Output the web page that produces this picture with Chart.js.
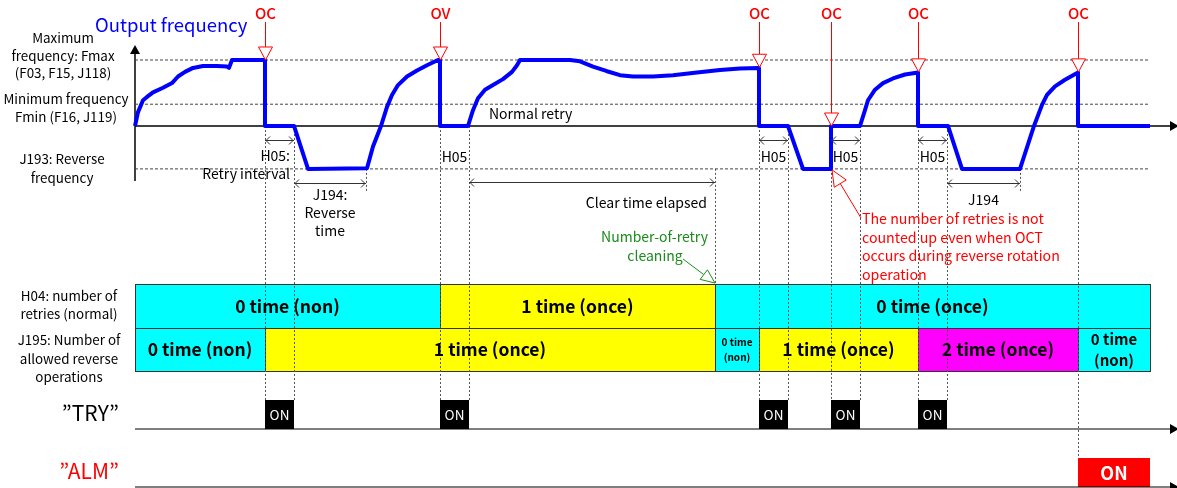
<!DOCTYPE html>
<html>
<head>
<meta charset="utf-8">
<script src="https://cdn.jsdelivr.net/npm/chart.js@4.4.1/dist/chart.umd.min.js"></script>
<style>
  html, body { margin: 0; padding: 0; background: #fff; }
  #wrap { width: 1177px; height: 488px; }
</style>
</head>
<body>
<div id="wrap"><canvas id="timing" width="1177" height="488"></canvas></div>
<script>
// time is in arbitrary units (0 = start), frequency in % of Fmax
const freqTimes = [0, 3, 8, 12, 18, 28, 37, 43, 50, 58, 68, 82, 92, 94, 97,
    130, 130, 159, 173, 232, 238, 246, 252, 257, 263, 272, 282, 292, 303,
    305, 305, 333, 338, 343, 350, 358, 368, 377, 382, 385,
    435, 445, 458, 472, 485, 498, 518, 538, 562, 585, 605, 623,
    624, 624, 653, 668, 696, 696, 725, 730, 733, 740, 748, 758, 770, 783,
    783, 813, 827, 885, 899, 907, 912, 920, 930, 943,
    943, 1015];
const freqValues = [0, 21, 39, 44, 51, 58, 65, 75, 82, 88, 91, 91, 90, 88, 100,
    100, 0, 0, -65, -64, -31, 0, 29, 47, 62, 75, 84, 92, 100,
    100, 0, 0, 24, 42, 55, 62, 71, 82, 92, 100,
    100, 98, 90, 83, 77, 75, 75, 77, 81, 85, 87, 88,
    88, 0, 0, -65, -65, 0, 0, 24, 39, 55, 65, 72, 78, 81,
    0, 0, -65, -65, 0, 32, 47, 60, 70, 81,
    0, 0];

const fMax = 100;
const fMin = 33;
const fReverse = -65;
const endTime = 1015;

// trips
const tripTimes = [130, 305, 624, 696, 783, 943];
const tripCodes = ['OC', 'OV', 'OC', 'OC', 'OC', 'OC'];
const tripFreq = [100, 100, 89, 0, 82, 82];

// retry (H05) intervals = TRY signal on
const tryOnStart = [130, 305, 624, 696, 783];
const tryOnEnd = [159, 334, 653, 725, 812];
// reverse time J194
const reverseStart = [159, 812];
const reverseEnd = [231, 885];
const clearStart = 334;
const clearEnd = 580;

// ALM signal on
const almOnStart = [943];
const almOnEnd = [1015];

// H04 lane
const h04Edges = [0, 305, 580, 1015];
const h04Counts = [0, 1, 0];
const h04Labels = ['0 time (non)', '1 time (once)', '0 time (once)'];

// J195 lane
const j195Edges = [0, 130, 580, 624, 783, 943, 1015];
const j195Counts = [0, 1, 0, 1, 2, 0];
const j195Labels = ['0 time (non)', '1 time (once)', '0 time\n(non)', '1 time (once)', '2 time (once)', '0 time\n(non)'];

const FONT = '"Noto Sans CJK JP", "Noto Sans", sans-serif';
const countColors = ['#00ffff', '#ffff00', '#ff00ff'];

function text(ctx, str, x, y, size, color, align, weight) {
    ctx.font = (weight || 'normal') + ' ' + size + 'px ' + FONT;
    ctx.fillStyle = color || '#000';
    ctx.textAlign = align || 'center';
    ctx.textBaseline = 'middle';
    ctx.fillText(str, x, y);
}

function dashedV(ctx, x, y1, y2) {
    ctx.save();
    ctx.strokeStyle = '#555';
    ctx.lineWidth = 1;
    ctx.setLineDash([2, 2]);
    ctx.beginPath();
    ctx.moveTo(Math.round(x) + 0.5, y1);
    ctx.lineTo(Math.round(x) + 0.5, y2);
    ctx.stroke();
    ctx.restore();
}

function dimArrow(ctx, x1, x2, y) {
    ctx.save();
    ctx.strokeStyle = '#333';
    ctx.lineWidth = 1;
    ctx.beginPath();
    ctx.moveTo(x1, y + 0.5);
    ctx.lineTo(x2, y + 0.5);
    ctx.moveTo(x1 + 5, y - 3.5);
    ctx.lineTo(x1 + 1, y + 0.5);
    ctx.lineTo(x1 + 5, y + 4.5);
    ctx.moveTo(x2 - 5, y - 3.5);
    ctx.lineTo(x2 - 1, y + 0.5);
    ctx.lineTo(x2 - 5, y + 4.5);
    ctx.stroke();
    ctx.restore();
}

// line with a hollow triangle head at (x2, y2)
function hollowArrow(ctx, x1, y1, x2, y2, color, headLen, headHalf) {
    const a = Math.atan2(y2 - y1, x2 - x1);
    const bx = x2 - headLen * Math.cos(a), by = y2 - headLen * Math.sin(a);
    ctx.save();
    ctx.strokeStyle = color;
    ctx.lineWidth = 1;
    ctx.beginPath();
    ctx.moveTo(x1, y1);
    ctx.lineTo(bx, by);
    ctx.stroke();
    ctx.beginPath();
    ctx.moveTo(x2, y2);
    ctx.lineTo(bx + headHalf * Math.sin(a), by - headHalf * Math.cos(a));
    ctx.lineTo(bx - headHalf * Math.sin(a), by + headHalf * Math.cos(a));
    ctx.closePath();
    ctx.fillStyle = '#fff';
    ctx.fill();
    ctx.stroke();
    ctx.restore();
}

function solidArrowHead(ctx, x, y, dir) {
    ctx.beginPath();
    if (dir === 'up') {
        ctx.moveTo(x, y);
        ctx.lineTo(x - 5, y + 9);
        ctx.lineTo(x + 5, y + 9);
    } else {
        ctx.moveTo(x, y);
        ctx.lineTo(x - 9, y - 5);
        ctx.lineTo(x - 9, y + 5);
    }
    ctx.closePath();
    ctx.fillStyle = '#000';
    ctx.fill();
}

function drawLane(ctx, X, edges, counts, top, bottom) {
    for (let i = 0; i < counts.length; i++) {
        const x1 = X(edges[i]), x2 = X(edges[i + 1]);
        ctx.fillStyle = countColors[counts[i]];
        ctx.fillRect(x1, top, x2 - x1, bottom - top);
        ctx.strokeStyle = '#333';
        ctx.lineWidth = 1;
        ctx.strokeRect(Math.round(x1) + 0.5, top + 0.5, Math.round(x2 - x1), bottom - top);
    }
}

function laneLabels(ctx, X, edges, labels, top, bottom) {
    for (let i = 0; i < labels.length; i++) {
        const cx = (X(edges[i]) + X(edges[i + 1])) / 2;
        const cy = (top + bottom) / 2;
        const lines = labels[i].split('\n');
        if (lines.length === 1) {
            text(ctx, lines[0], cx, cy, 17.5, '#000', 'center', 'bold');
        } else {
            const w = X(edges[i + 1]) - X(edges[i]);
            const size = w < 60 ? 10 : 15;
            const gap = w < 60 ? 7.5 : 10.5;
            text(ctx, lines[0], cx, cy - gap, size, '#000', 'center', 'bold');
            text(ctx, lines[1], cx, cy + gap, size, '#000', 'center', 'bold');
        }
    }
}

const lanes = { h04Top: 284, h04Bottom: 328, j195Bottom: 371, tryTop: 400, tryBase: 429, almTop: 458, almBase: 487 };

const timingDecor = {
    id: 'timingDecor',
    beforeDatasetsDraw(chart) {
        const ctx = chart.ctx;
        const X = t => chart.scales.x.getPixelForValue(t);
        const Y = f => chart.scales.y.getPixelForValue(f);

        // count lanes
        drawLane(ctx, X, h04Edges, h04Counts, lanes.h04Top, lanes.h04Bottom);
        drawLane(ctx, X, j195Edges, j195Counts, lanes.h04Bottom, lanes.j195Bottom);

        // signal lanes
        tryOnStart.forEach((t, i) => {
            ctx.fillStyle = '#000';
            ctx.fillRect(X(t), lanes.tryTop, X(tryOnEnd[i]) - X(t), lanes.tryBase - lanes.tryTop);
        });
        almOnStart.forEach((t, i) => {
            ctx.fillStyle = '#ff0000';
            ctx.fillRect(X(t), lanes.almTop, X(almOnEnd[i]) - X(t), lanes.almBase - lanes.almTop);
        });

        // guide lines
        tryOnStart.forEach((t, i) => {
            const trip = tripTimes.indexOf(t);
            const from = Y(tripFreq[trip] === 0 ? fReverse : 0);
            dashedV(ctx, X(t), from, lanes.tryTop);
            dashedV(ctx, X(tryOnEnd[i]), Y(0), lanes.tryTop);
        });
        almOnStart.forEach(t => dashedV(ctx, X(t), Y(0), lanes.almTop));
        reverseEnd.forEach(t => dashedV(ctx, X(t), Y(fReverse), Y(fReverse) + 22));
        dashedV(ctx, X(clearEnd), Y(fReverse), lanes.h04Top);

        // axes
        ctx.strokeStyle = '#000';
        ctx.lineWidth = 1.5;
        ctx.beginPath();
        ctx.moveTo(X(0), Y(fReverse) + 12);
        ctx.lineTo(X(0), 52);
        ctx.stroke();
        solidArrowHead(ctx, X(0), 45, 'up');
        [Y(0), lanes.tryBase, lanes.almBase].forEach(y => {
            ctx.beginPath();
            ctx.lineWidth = y === Y(0) ? 1.5 : 1.2;
            ctx.moveTo(X(0), y);
            ctx.lineTo(chart.chartArea.right - 6, y);
            ctx.stroke();
            solidArrowHead(ctx, chart.chartArea.right + 2, y, 'right');
        });
    },
    afterDatasetsDraw(chart) {
        const ctx = chart.ctx;
        const X = t => chart.scales.x.getPixelForValue(t);
        const Y = f => chart.scales.y.getPixelForValue(f);

        // lane texts
        laneLabels(ctx, X, h04Edges, h04Labels, lanes.h04Top, lanes.h04Bottom);
        laneLabels(ctx, X, j195Edges, j195Labels, lanes.h04Bottom, lanes.j195Bottom);
        tryOnStart.forEach((t, i) => text(ctx, 'ON', (X(t) + X(tryOnEnd[i])) / 2, lanes.tryTop + 15, 13.5, '#fff'));
        almOnStart.forEach((t, i) => text(ctx, 'ON', (X(t) + X(almOnEnd[i])) / 2, lanes.almTop + 15, 18, '#fff', 'center', 'bold'));

        // trip markers
        tripTimes.forEach((t, i) => {
            const x = X(t) + 0.5;
            text(ctx, tripCodes[i], x, 13, 15, '#ff0000', 'center', '500');
            hollowArrow(ctx, x, 22, x, Y(tripFreq[i]), '#ff0000', 13, 7);
        });

        // retry intervals
        [0, 2, 3, 4].forEach(i => dimArrow(ctx, X(tryOnStart[i]), X(tryOnEnd[i]), 140));
        tryOnStart.forEach((t, i) => {
            if (i === 0) return;
            text(ctx, 'H05', (X(t) + X(tryOnEnd[i])) / 2, 157, 14, '#000');
        });
        text(ctx, 'H05:', X(tryOnEnd[0]) - 4, 156, 14, '#000', 'right');
        text(ctx, 'Retry interval', X(tryOnEnd[0]) - 4, 174, 14, '#000', 'right');

        // reverse time
        reverseStart.forEach((t, i) => dimArrow(ctx, X(t), X(reverseEnd[i]), 183));
        const rc = (X(reverseStart[0]) + X(reverseEnd[0])) / 2;
        text(ctx, 'J194:', rc, 195, 14, '#000');
        text(ctx, 'Reverse', rc, 213, 14, '#000');
        text(ctx, 'time', rc, 231, 14, '#000');
        text(ctx, 'J194', (X(reverseStart[1]) + X(reverseEnd[1])) / 2, 200, 14, '#000');

        // clear time
        dimArrow(ctx, X(clearStart), X(clearEnd), 182);
        text(ctx, 'Clear time elapsed', X(clearEnd) - 8, 203, 14, '#000', 'right');
        text(ctx, 'Normal retry', X(clearStart) + 20, 114, 14, '#000', 'left');

        // green note
        text(ctx, 'Number-of-retry', X(clearEnd) - 7, 237, 14, '#1a8c1a', 'right');
        text(ctx, 'cleaning', 655, 256, 14, '#1a8c1a', 'center');
        hollowArrow(ctx, 683, 259, X(clearEnd), lanes.h04Top - 1, '#1a8c1a', 14, 6);

        // red note
        const nx = X(tryOnEnd[3]) + 1;
        hollowArrow(ctx, nx, 218, X(tripTimes[3]) + 1, Y(fReverse) + 1, '#ff0000', 16, 7);
        ['The number of retries is not', 'counted up even when OCT',
         'occurs during reverse rotation', 'operation'].forEach((s, i) =>
            text(ctx, s, nx + 1, 219 + i * 18.5, 14.2, '#ff0000', 'left'));

        // left labels
        text(ctx, 'Output frequency', 95, 25, 18.5, '#0000ff', 'left');
        const lc = 66;
        const ls = 13.4;
        text(ctx, 'Maximum', lc - 3, 38, ls, '#000');
        text(ctx, 'frequency: Fmax', lc - 3, 56, ls, '#000');
        text(ctx, '(F03, F15, J118)', lc - 3, 73, ls, '#000');
        text(ctx, 'Minimum frequency', lc, 99, ls, '#000');
        text(ctx, 'Fmin (F16, J119)', lc, 117, ls, '#000');
        text(ctx, 'J193: Reverse', lc - 4, 159, ls, '#000');
        text(ctx, 'frequency', lc - 4, 178, ls, '#000');
        text(ctx, 'H04: number of', lc + 3, 296, ls, '#000');
        text(ctx, 'retries (normal)', lc + 3, 314, ls, '#000');
        text(ctx, 'J195: Number of', lc + 3, 340, ls, '#000');
        text(ctx, 'allowed reverse', lc + 3, 359, ls, '#000');
        text(ctx, 'operations', lc + 3, 377, ls, '#000');
        text(ctx, '”TRY”', 119, 413, 21, '#000', 'right');
        text(ctx, '”ALM”', 119, 471, 21, '#ff0000', 'right');
    }
};

function refLine(value, dashed) {
    return {
        data: [{ x: 0, y: value }, { x: endTime, y: value }],
        borderColor: '#444',
        borderWidth: 1,
        borderDash: dashed ? [3, 2] : [],
        pointRadius: 0,
        order: 2
    };
}

const ctx = document.getElementById('timing').getContext('2d');
const chart = new Chart(ctx, {
    type: 'line',
    data: {
        datasets: [
            {
                label: 'Output frequency',
                data: freqTimes.map((t, i) => ({ x: t, y: freqValues[i] })),
                borderColor: '#0000ff',
                borderWidth: 4,
                pointRadius: 0,
                tension: 0,
                borderJoinStyle: 'round',
                order: 0
            },
            refLine(fMax, true),
            refLine(fMin, true),
            refLine(fReverse, true)
        ]
    },
    options: {
        responsive: false,
        animation: false,
        events: [],
        layout: { padding: 0 },
        scales: {
            x: { type: 'linear', min: -135, max: 1042, display: false },
            y: { type: 'linear', min: -548.5, max: 190.9, display: false }
        },
        plugins: {
            legend: { display: false },
            tooltip: { enabled: false }
        }
    },
    plugins: [timingDecor]
});
</script>
</body>
</html>
